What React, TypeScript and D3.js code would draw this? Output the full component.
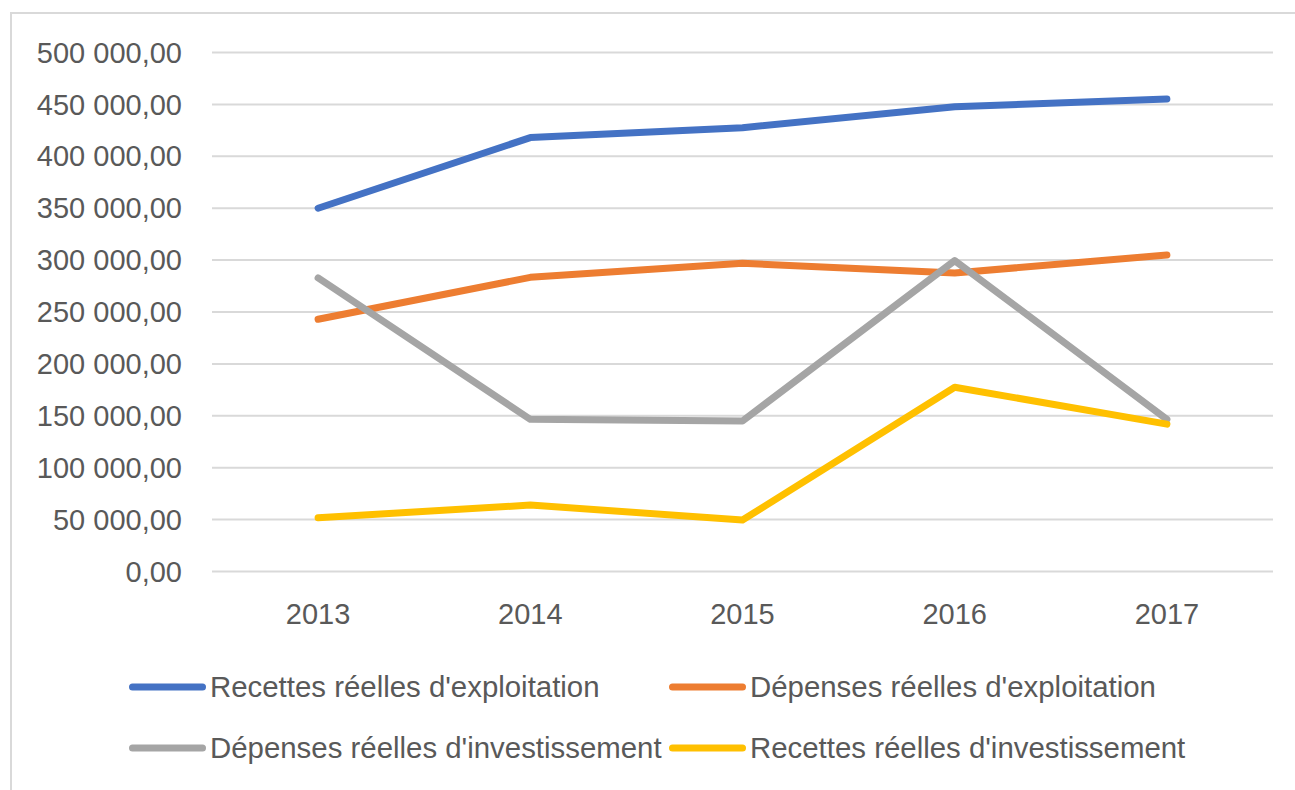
import { useEffect, useRef } from "react";
import * as d3 from "d3";

const years = ["2013", "2014", "2015", "2016", "2017"];
const recettesExploitation = [350000, 418000, 427600, 447800, 455200];
const depensesExploitation = [243000, 283400, 296900, 287600, 304900];
const depensesInvestissement = [282800, 146600, 145000, 299500, 146600];
const recettesInvestissement = [51800, 64000, 49600, 177500, 142000];
const yTicks = [0, 50000, 100000, 150000, 200000, 250000, 300000, 350000, 400000, 450000, 500000];

const seriesList = [
  { name: "Recettes réelles d'exploitation", values: recettesExploitation, color: "#4472C4" },
  { name: "Dépenses réelles d'exploitation", values: depensesExploitation, color: "#ED7D31" },
  { name: "Dépenses réelles d'investissement", values: depensesInvestissement, color: "#A5A5A5" },
  { name: "Recettes réelles d'investissement", values: recettesInvestissement, color: "#FFC000" },
];

// french style: space thousands, comma decimals
const fmt = (v: number) =>
  d3.format(",.2f")(v).replace(/,/g, " ").replace(".", ",");

export default function App() {
  const svgRef = useRef<SVGSVGElement>(null);

  useEffect(() => {
    if (!svgRef.current) return;
    const width = 1295;
    const height = 790;
    const margin = { top: 52.5, right: 22, bottom: 218.5, left: 212 };
    const font = "'Liberation Sans', Arial, sans-serif";

    const svg = d3.select(svgRef.current);
    svg.selectAll("*").remove();
    svg.attr("width", width).attr("height", height);

    svg.append("rect").attr("width", width).attr("height", height).attr("fill", "#fff");

    // chart border (only top + left are in frame)
    svg
      .append("path")
      .attr("d", `M11,${height} L11,13 L${width},13`)
      .attr("fill", "none")
      .attr("stroke", "#d9d9d9")
      .attr("stroke-width", 2);

    const x = d3
      .scaleBand()
      .domain(years)
      .range([margin.left, width - margin.right]);

    const y = d3
      .scaleLinear()
      .domain([0, 500000])
      .range([height - margin.bottom, margin.top]);

    // gridlines
    svg
      .selectAll(".grid")
      .data(yTicks)
      .enter()
      .append("line")
      .attr("x1", margin.left)
      .attr("x2", width - margin.right)
      .attr("y1", (d) => y(d))
      .attr("y2", (d) => y(d))
      .attr("stroke", "#d9d9d9")
      .attr("stroke-width", 2);

    // y labels
    svg
      .selectAll(".ylab")
      .data(yTicks)
      .enter()
      .append("text")
      .attr("x", 182)
      .attr("y", (d) => y(d))
      .attr("dy", "0.35em")
      .attr("text-anchor", "end")
      .attr("fill", "#595959")
      .style("font-family", font)
      .style("font-size", "29px")
      .text((d) => fmt(d));

    // x labels
    svg
      .selectAll(".xlab")
      .data(years)
      .enter()
      .append("text")
      .attr("x", (d) => (x(d) || 0) + x.bandwidth() / 2)
      .attr("y", 613.5)
      .attr("dy", "0.35em")
      .attr("text-anchor", "middle")
      .attr("fill", "#595959")
      .style("font-family", font)
      .style("font-size", "29px")
      .text((d) => d);

    const line = d3
      .line<number>()
      .x((_, i) => (x(years[i]) || 0) + x.bandwidth() / 2)
      .y((d) => y(d));

    seriesList.forEach((s) => {
      svg
        .append("path")
        .attr("d", line(s.values))
        .attr("fill", "none")
        .attr("stroke", s.color)
        .attr("stroke-width", 7)
        .attr("stroke-linecap", "round")
        .attr("stroke-linejoin", "round");
    });

    // legend, 2 columns
    const legendPos = [
      { x: 129, y: 687 },
      { x: 669, y: 687 },
      { x: 129, y: 748 },
      { x: 669, y: 748 },
    ];
    seriesList.forEach((s, i) => {
      const p = legendPos[i];
      const g = svg.append("g").attr("transform", `translate(${p.x},${p.y})`);
      g.append("line")
        .attr("x1", 3.5)
        .attr("x2", 73.5)
        .attr("stroke", s.color)
        .attr("stroke-width", 7)
        .attr("stroke-linecap", "round");
      g.append("text")
        .attr("x", 81)
        .attr("dy", "0.35em")
        .attr("fill", "#595959")
        .style("font-family", font)
        .style("font-size", "29.4px")
        .text(s.name);
    });
  }, []);

  return (
    <div style={{ position: "absolute", left: 0, top: 0 }}>
      <svg ref={svgRef} style={{ display: "block" }} />
    </div>
  );
}
